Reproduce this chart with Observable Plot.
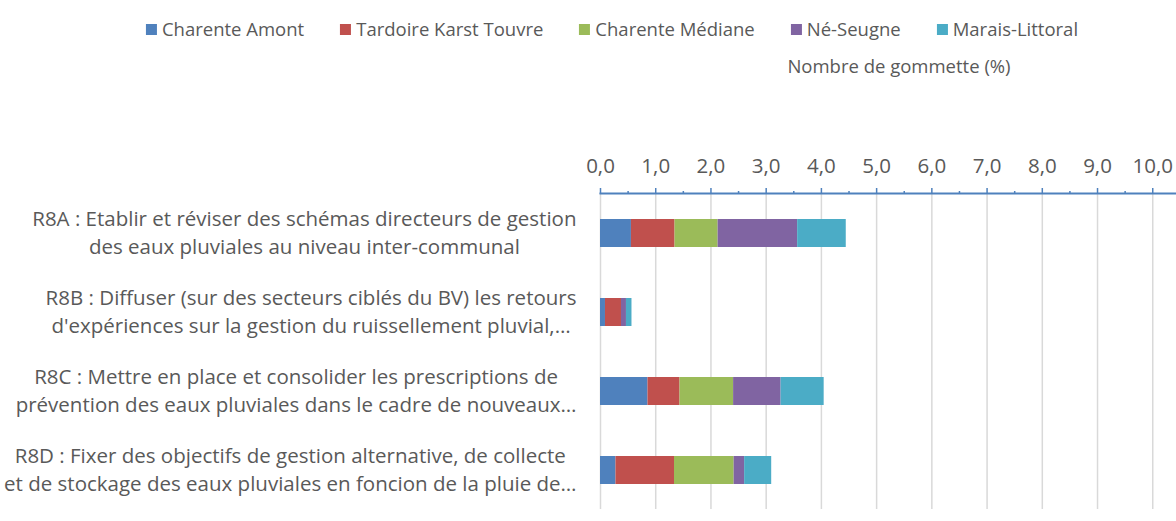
<!DOCTYPE html>
<html><head><meta charset="utf-8">
<script src="https://cdn.jsdelivr.net/npm/d3@7"></script>
<script src="https://cdn.jsdelivr.net/npm/@observablehq/plot@0.6"></script>
<style>
body{margin:0;background:#fff;font-family:"Open Sans",sans-serif;color:#595959;}
#wrap{position:relative;width:1176px;height:521px;overflow:hidden}
#top{position:relative;height:80px}
#legend{position:absolute;left:612px;top:15px;transform:translateX(-50%);display:flex;gap:36px;white-space:nowrap;font-size:18.5px;line-height:28px}
.item{display:flex;align-items:center}
.sw{width:11px;height:11px;margin-right:5px}
#title{position:absolute;left:899px;top:52px;transform:translateX(-50%);font-size:18.5px;line-height:28px;white-space:nowrap}
</style></head><body>
<div id="wrap"><div id="top"><div id="legend"></div><div id="title"></div></div><div id="chart"></div></div>
<script>
const categories = ["R8A", "R8B", "R8C", "R8D"];
const categoryLabels = [
  "R8A : Etablir et réviser des schémas directeurs de gestion\ndes eaux pluviales au niveau inter-communal",
  "R8B : Diffuser (sur des secteurs ciblés du BV) les retours\nd'expériences sur la gestion du ruissellement pluvial,…",
  "R8C : Mettre en place et consolider les prescriptions de\nprévention des eaux pluviales dans le cadre de nouveaux…",
  "R8D : Fixer des objectifs de gestion alternative, de collecte\net de stockage des eaux pluviales en foncion de la pluie de…"
];
const seriesNames = ["Charente Amont", "Tardoire Karst Touvre", "Charente Médiane", "Né-Seugne", "Marais-Littoral"];
const charenteAmont = [0.56, 0.09, 0.86, 0.28];
const tardoireKarstTouvre = [0.79, 0.29, 0.58, 1.06];
const charenteMediane = [0.78, 0.00, 0.97, 1.08];
const neSeugne = [1.44, 0.09, 0.86, 0.19];
const maraisLittoral = [0.88, 0.10, 0.78, 0.49];
const seriesColors = ["#4F81BD", "#C0504D", "#9BBB59", "#8064A2", "#4BACC6"];
const majorTicks = [0,1,2,3,4,5,6,7,8,9,10];
const minorTicks = [0.5,1.5,2.5,3.5,4.5,5.5,6.5,7.5,8.5,9.5];
const axisTitle = "Nombre de gommette (%)";

const seriesValues = [charenteAmont, tardoireKarstTouvre, charenteMediane, neSeugne, maraisLittoral];
const data = [];
seriesNames.forEach((s, i) => categories.forEach((c, j) => data.push({series: s, cat: c, value: seriesValues[i][j]})));
const labelOf = Object.fromEntries(categories.map((c, i) => [c, categoryLabels[i]]));

// legend
const leg = document.getElementById("legend");
seriesNames.forEach((s, i) => {
  const it = document.createElement("div"); it.className = "item";
  const sw = document.createElement("div"); sw.className = "sw"; sw.style.background = seriesColors[i];
  const tx = document.createElement("span"); tx.textContent = s;
  it.appendChild(sw); it.appendChild(tx); leg.appendChild(it);
});
document.getElementById("title").textContent = axisTitle;

const axisBlue = "#4F81BD";
const chart = Plot.plot({
  width: 1176, height: 441,
  marginTop: 113, marginBottom: 12, marginLeft: 600, marginRight: 0,
  style: {fontFamily: "Open Sans, sans-serif", fontSize: "20.5px", color: "#595959", background: "#fff"},
  x: {domain: [0, 10.43]},
  y: {domain: categories, paddingInner: 0.646, paddingOuter: 0.323},
  color: {domain: seriesNames, range: seriesColors},
  marks: [
    Plot.gridX({ticks: majorTicks, stroke: "#d9d9d9", strokeOpacity: 1, strokeWidth: 1.5}),
    Plot.barX(data, Plot.stackX({x: "value", y: "cat", fill: "series", z: "series", order: seriesNames})),
    Plot.frame({anchor: "top", stroke: axisBlue, strokeWidth: 2}),
    Plot.axisX({anchor: "top", ticks: minorTicks, tickSize: 3, tickFormat: () => "", stroke: axisBlue, strokeWidth: 1.5, label: null}),
    Plot.axisX({anchor: "top", ticks: majorTicks, tickSize: 6, tickPadding: 15, stroke: axisBlue, strokeWidth: 1.5, fill: "#595959",
      tickFormat: d => d.toFixed(1).replace(".", ","), label: null}),
    Plot.axisY({anchor: "left", tickSize: 0, tickPadding: 0, textAnchor: "middle", lineHeight: 1.36, dy: -2, fill: "#595959",
      tickFormat: d => labelOf[d], label: null})
  ]
});
document.getElementById("chart").appendChild(chart);

// right-align each label block at the axis gap while keeping lines centered
const rightEdge = 576;
chart.querySelectorAll('g[aria-label="y-axis tick label"] text').forEach(t => {
  const w = t.getBBox().width;
  const tr = t.getAttribute("transform");
  const m = tr && tr.match(/translate\(([^,\s]+)[,\s]+([^)]+)\)/);
  if (m) t.setAttribute("transform", `translate(${rightEdge - w / 2},${m[2]})`);
});
</script>
</body></html>
